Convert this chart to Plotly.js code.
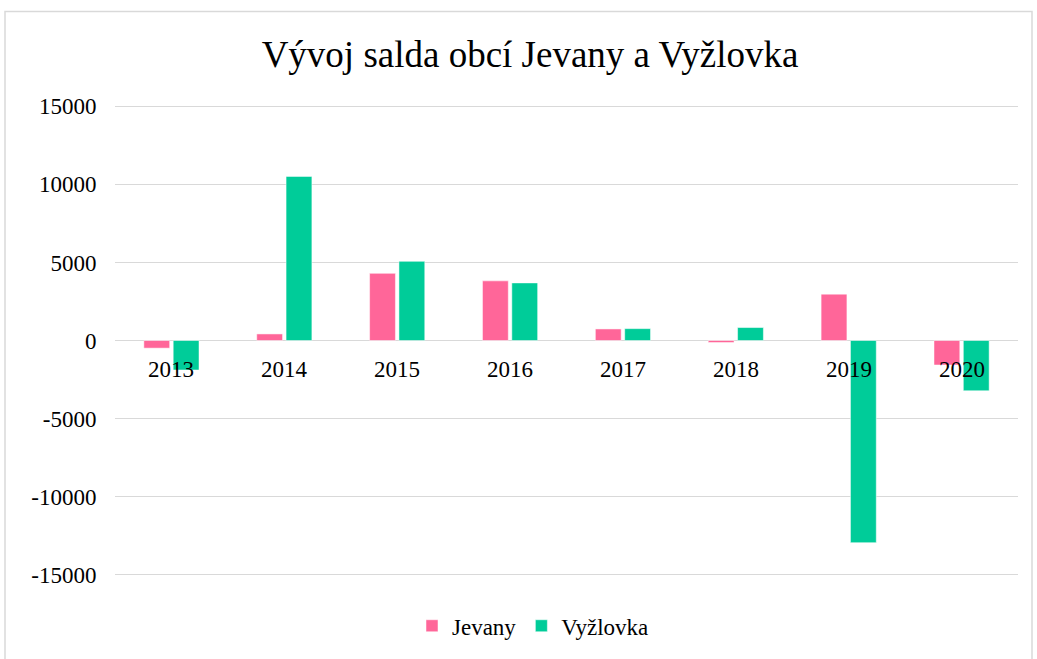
<!DOCTYPE html>
<html>
<head>
<meta charset="utf-8">
<script src="https://cdn.plot.ly/plotly-3.0.1.min.js"></script>
<style>html,body{margin:0;padding:0;background:#fff;}#chart{width:1037px;height:659px;}</style>
</head>
<body>
<div id="chart"></div>
<script>
var years = ['2013','2014','2015','2016','2017','2018','2019','2020'];
var jevany = [-490, 420, 4300, 3820, 740, -130, 2970, -1570];
var vyzlovka = [-1890, 10510, 5070, 3690, 760, 830, -12950, -3220];
var yTicks = [-15000, -10000, -5000, 0, 5000, 10000, 15000];

var font = '"Liberation Serif", "Times New Roman", serif';

var traces = [
  {type:'bar', name:'Jevany', x:years, y:jevany, marker:{color:'#FF6699', line:{color:'#ffffff', width:0.5}}},
  {type:'bar', name:'Vyžlovka', x:years, y:vyzlovka, marker:{color:'#00CC99', line:{color:'#ffffff', width:0.5}}}
];

var annotations = years.map(function(yr, i){
  return {x:i, y:0, xref:'x', yref:'y', text:yr, showarrow:false, yshift:-29,
          font:{family:font, size:23, color:'#000'}};
});

var layout = {
  width:1037, height:659,
  margin:{l:115, r:19, t:104, b:80},
  paper_bgcolor:'#fff', plot_bgcolor:'#fff',
  title:{text:'Vývoj salda obcí Jevany a Vyžlovka', x:530/1037, xanchor:'center', y:1-54/659, yanchor:'middle',
         font:{family:font, size:37, color:'#000'}},
  barmode:'group', bargap:0.48, bargroupgap:0.12,
  xaxis:{type:'category', range:[-0.5, 7.5], showticklabels:false, showgrid:false, zeroline:false, showline:false, ticks:''},
  yaxis:{range:[-15150,15150], tickvals:yTicks, ticktext:yTicks.map(String), showgrid:true, gridcolor:'#d9d9d9', gridwidth:1.5,
         zeroline:true, zerolinecolor:'#d9d9d9', zerolinewidth:1.5, showline:false,
         ticks:'outside', ticklen:13, tickcolor:'rgba(0,0,0,0)',
         tickfont:{family:font, size:23, color:'#000'}, fixedrange:true},
  legend:{orientation:'h', x:(533-115)/903, xanchor:'center', y:(579-628)/475, yanchor:'middle',
          font:{family:font, size:23, color:'#000'}, traceorder:'normal'},
  annotations:annotations,
  shapes:[{type:'rect', xref:'paper', yref:'paper', x0:(5-115)/903, x1:(1032-115)/903, y0:(579-665)/475, y1:(579-11)/475,
           line:{color:'#d9d9d9', width:1.5}, fillcolor:'rgba(0,0,0,0)', layer:'below'}]
};

Plotly.newPlot('chart', traces, layout, {staticPlot:true, displayModeBar:false});
</script>
</body>
</html>
